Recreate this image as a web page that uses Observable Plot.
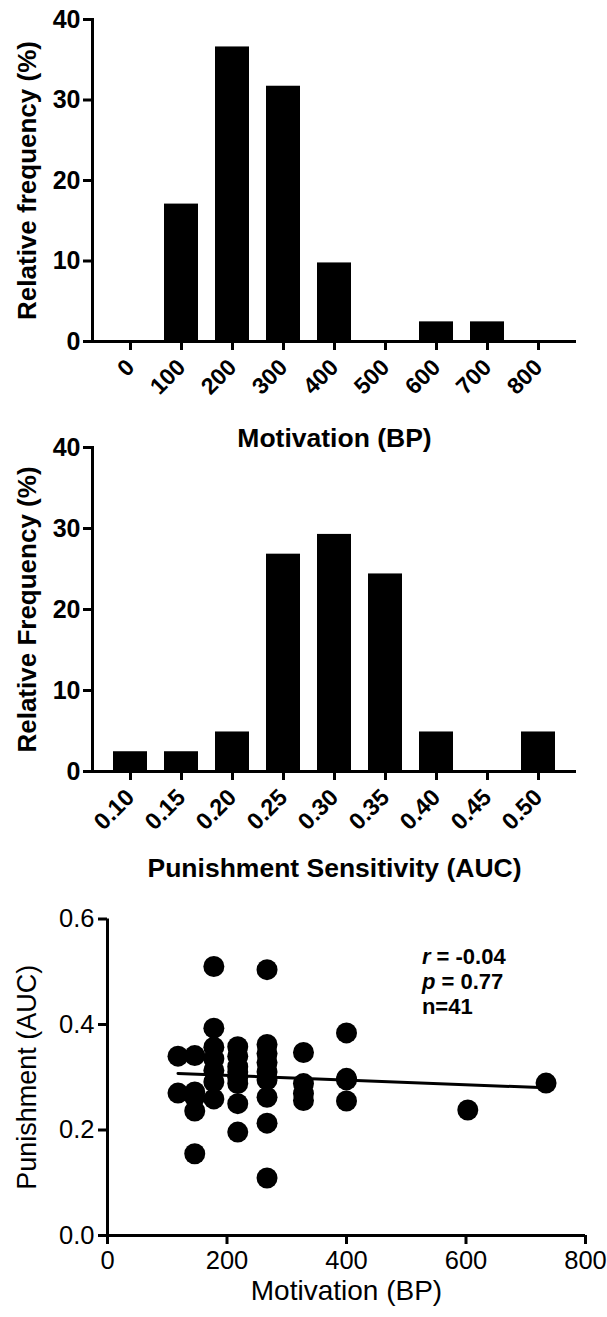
<!DOCTYPE html>
<html><head><meta charset="utf-8">
<script src="https://cdn.jsdelivr.net/npm/d3@7"></script>
<script src="https://cdn.jsdelivr.net/npm/@observablehq/plot@0.6"></script>
<style>
body{margin:0;background:#fff;}
#wrap{position:relative;width:607px;height:1317px;overflow:hidden;background:#fff;}
#wrap > svg{position:absolute;left:0;}
</style></head><body><div id="wrap"></div>
<script>
// ---- Data ----
const motivationBins = ["0","100","200","300","400","500","600","700","800"];
const motivationFreq = [0, 17.07, 36.59, 31.71, 9.76, 0, 2.44, 2.44, 0];

const punishBins = ["0.10","0.15","0.20","0.25","0.30","0.35","0.40","0.45","0.50"];
const punishFreq = [2.44, 2.44, 4.88, 26.83, 29.27, 24.39, 4.88, 0, 4.88];

const histYTicks = [0, 10, 20, 30, 40];

const scatterMotivation = [
  118,118,
  146,146,146,146,146,
  178,178,178,178,178,178,178,
  218,218,218,218,218,218,218,218,
  267,267,267,267,267,267,267,267,267,
  328,328,328,328,
  400,400,400,400,
  603,
  734
];
const scatterPunishment = [
  0.340,0.270,
  0.341,0.272,0.262,0.236,0.155,
  0.510,0.393,0.357,0.335,0.313,0.291,0.259,
  0.358,0.340,0.320,0.310,0.300,0.288,0.250,0.196,
  0.504,0.362,0.345,0.328,0.310,0.295,0.262,0.213,0.109,
  0.347,0.288,0.269,0.256,
  0.384,0.298,0.295,0.255,
  0.238,
  0.289
];
const scatterXTicks = [0, 200, 400, 600, 800];
const scatterYTicks = [0, 0.2, 0.4, 0.6];
const statLines = [["r", " = -0.04"], ["p", " = 0.77"], ["", "n=41"]];
const statX = 527;
const statY = [0.514, 0.466, 0.419];

// ---- Drawing ----
const FONT = '"Liberation Sans", Arial, sans-serif';
const wrap = document.getElementById("wrap");

function histogram({bins, freq, top, height, marginTop, marginBottom, xLabel, yLabel, tickFont}) {
  const data = bins.map((b, i) => ({bin: b, f: freq[i]}));
  const p = Plot.plot({
    width: 607, height, marginTop, marginBottom, marginLeft: 92, marginRight: 31,
    style: {fontFamily: FONT, color: "black", background: "transparent", overflow: "visible"},
    x: {type: "band", domain: bins, paddingInner: 0.34, paddingOuter: 0.36},
    y: {domain: [0, 40]},
    marks: [
      Plot.barY(data, {x: "bin", y: "f", fill: "black"}),
      Plot.frame({anchor: "left", strokeWidth: 3}),
      Plot.ruleY([0], {strokeWidth: 3}),
      Plot.axisY({ticks: histYTicks, tickSize: 9, tickPadding: 3, fontSize: 25, fontWeight: "bold", strokeWidth: 3, label: null}),
      Plot.axisX({tickRotate: -45, tickSize: 9, tickPadding: 13, fontSize: tickFont, fontWeight: "bold", strokeWidth: 3, label: null}),
      Plot.text([xLabel], {frameAnchor: "bottom", lineAnchor: "middle", dy: 97, fontSize: 26.5, fontWeight: "bold", text: d => d}),
      Plot.text([yLabel], {frameAnchor: "left", textAnchor: "middle", lineAnchor: "middle", rotate: -90, dx: -65, fontSize: 26, fontWeight: "bold", text: d => d})
    ]
  });
  p.style.top = top + "px";
  wrap.appendChild(p);
  return p;
}

histogram({bins: motivationBins, freq: motivationFreq, top: 0, height: 460, marginTop: 19, marginBottom: 119,
  xLabel: "Motivation (BP)", yLabel: "Relative frequency (%)", tickFont: 23});
histogram({bins: punishBins, freq: punishFreq, top: 420, height: 480, marginTop: 27, marginBottom: 129,
  xLabel: "Punishment Sensitivity (AUC)", yLabel: "Relative Frequency (%)", tickFont: 23.5});

const pts = scatterMotivation.map((m, i) => ({m, p: scatterPunishment[i]}));
const sc = Plot.plot({
  width: 607, height: 427, marginTop: 28.5, marginBottom: 82, marginLeft: 107, marginRight: 22,
  style: {fontFamily: FONT, color: "black", background: "transparent", overflow: "visible"},
  x: {domain: [0, 800]},
  y: {domain: [0, 0.6]},
  marks: [
    Plot.ruleY([0], {strokeWidth: 3}),
    Plot.ruleX([0], {strokeWidth: 3}),
    Plot.axisX({ticks: scatterXTicks, tickSize: 9, tickPadding: 6, fontSize: 25.5, strokeWidth: 3, label: null}),
    Plot.axisY({ticks: scatterYTicks, tickFormat: d3.format(".1f"), tickSize: 9, tickPadding: 4, fontSize: 25.5, strokeWidth: 3, label: null}),
    Plot.linearRegressionY(pts, {x: "m", y: "p", ci: 0, stroke: "black", strokeWidth: 3}),
    Plot.dot(pts, {x: "m", y: "p", r: 10.5, fill: "black"}),
    Plot.text(["Motivation (BP)"], {frameAnchor: "bottom", lineAnchor: "middle", dy: 56, fontSize: 28, text: d => d}),
    Plot.text(["Punishment (AUC)"], {frameAnchor: "left", textAnchor: "middle", lineAnchor: "middle", rotate: -90, dx: -80, fontSize: 27, text: d => d})
  ]
});
sc.style.top = "890px";
wrap.appendChild(sc);

const sx = sc.scale("x"), sy = sc.scale("y");
const g = d3.select(sc).append("g").attr("font-family", FONT).attr("font-size", 22)
  .attr("font-weight", "bold").attr("fill", "black").attr("text-anchor", "start");
statLines.forEach(([it, rest], i) => {
  const t = g.append("text").attr("x", sx.apply(statX)).attr("y", sy.apply(statY[i]));
  if (it) t.append("tspan").attr("font-style", "italic").text(it);
  t.append("tspan").text(rest);
});
</script>
</body></html>
